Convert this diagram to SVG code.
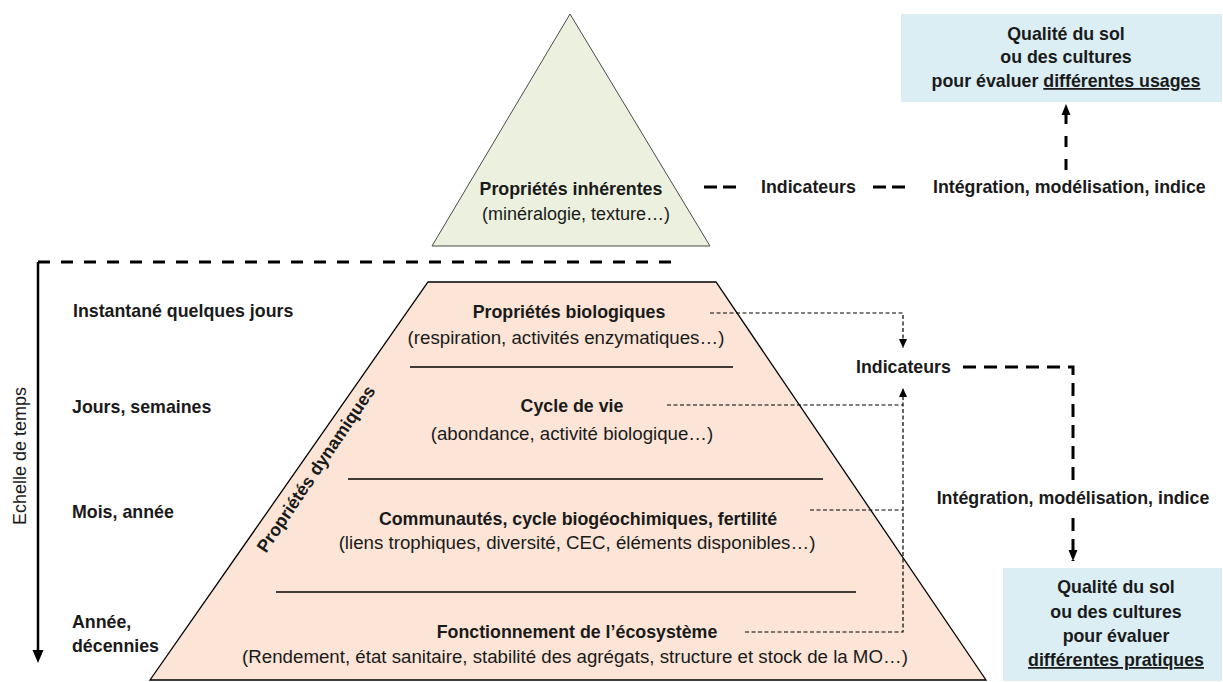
<svg xmlns="http://www.w3.org/2000/svg" width="1223" height="682" viewBox="0 0 1223 682">
<style>
text{font-family:"Liberation Sans",Arial,sans-serif;fill:#1a1a1a}
.b{font-weight:bold;font-size:17.8px}
.r{font-size:18.7px}
.m{text-anchor:middle}
.heavy{fill:none;stroke:#000;stroke-width:3;stroke-dasharray:12 11}
.thin{fill:none;stroke:#000;stroke-width:1.2;stroke-dasharray:4 2.5}
.div{stroke:#000;stroke-width:1.5}
</style>
<defs>
<marker id="ah" markerUnits="userSpaceOnUse" markerWidth="12" markerHeight="12" viewBox="0 0 12 12" refX="11" refY="6" orient="auto">
<path d="M0,1.5 L11,6 L0,10.5 Z" fill="#000"/>
</marker>
<marker id="ahs" markerUnits="userSpaceOnUse" markerWidth="10" markerHeight="10" viewBox="0 0 10 10" refX="9" refY="5" orient="auto">
<path d="M0,1 L9,5 L0,9 Z" fill="#000"/>
</marker>
</defs>
<rect width="1223" height="682" fill="#fff"/>

<g id="inherent">
<polygon points="570,14 432,246 710,246" fill="#ebf1de" stroke="#4a4a4a" stroke-width="1"/>
<text class="b m" x="571" y="195">Propriétés inhérentes</text>
<text class="r m" x="576" y="220" style="font-size:18px">(minéralogie, texture…)</text>
</g>

<g id="dynamic">
<polygon points="428,282 716,282 986,680 150,680" fill="#fce5d6" stroke="#000" stroke-width="1.3"/>
<line class="div" x1="410" y1="367" x2="733" y2="367"/>
<line class="div" x1="348" y1="479" x2="823" y2="479"/>
<line class="div" x1="276" y1="592" x2="856" y2="592"/>
<text class="b" transform="translate(316,469) rotate(-56)" x="0" y="6" text-anchor="middle">Propriétés dynamiques</text>
</g>

<g id="bio">
<text class="b m" x="569" y="318">Propriétés biologiques</text>
<text class="r m" x="566" y="344">(respiration, activités enzymatiques…)</text>
</g>
<g id="cycle">
<text class="b m" x="572" y="412">Cycle de vie</text>
<text class="r m" x="572" y="440">(abondance, activité biologique…)</text>
</g>
<g id="communautes">
<text class="b m" x="578" y="525">Communautés, cycle biogéochimiques, fertilité</text>
<text class="r m" x="577" y="549">(liens trophiques, diversité, CEC, éléments disponibles…)</text>
</g>
<g id="fonctionnement">
<text class="b m" x="577" y="638">Fonctionnement de l’écosystème</text>
<text class="r m" x="575" y="663">(Rendement, état sanitaire, stabilité des agrégats, structure et stock de la MO…)</text>
</g>

<g id="timescale">
<text class="r m" transform="translate(20,456) rotate(-90)" x="0" y="6" style="font-size:18px">Echelle de temps</text>
<text class="b" x="73" y="317">Instantané quelques jours</text>
<text class="b" x="72" y="413">Jours, semaines</text>
<text class="b" x="72" y="518">Mois, année</text>
<text class="b" x="72" y="628">Année,</text>
<text class="b" x="72" y="652">décennies</text>
</g>

<g id="top-indicators">
<text class="b" x="761" y="193">Indicateurs</text>
<text class="b" x="933" y="193">Intégration, modélisation, indice</text>
</g>

<g id="mid-indicators">
<text class="b" x="856" y="373">Indicateurs</text>
<text class="b m" x="1073" y="504">Intégration, modélisation, indice</text>
</g>

<g id="box-usages">
<rect x="901" y="14" width="321" height="88" fill="#daeef3"/>
<text class="b m" x="1066" y="40">Qualité du sol</text>
<text class="b m" x="1066" y="63">ou des cultures</text>
<text class="b m" x="1066" y="87">pour évaluer <tspan text-decoration="underline">différentes usages</tspan></text>
</g>

<g id="box-pratiques">
<rect x="1003" y="568" width="219" height="113" fill="#daeef3"/>
<text class="b m" x="1116" y="593">Qualité du sol</text>
<text class="b m" x="1116" y="618">ou des cultures</text>
<text class="b m" x="1116" y="642">pour évaluer</text>
<text class="b m" x="1116" y="666" text-decoration="underline">différentes pratiques</text>
</g>

<g id="connectors">
<line x1="38" y1="262" x2="677" y2="262" class="heavy"/>
<line x1="38" y1="262" x2="38" y2="652" stroke="#000" stroke-width="2.5"/>
<polygon points="32.5,650 43.5,650 38,663" fill="#000"/>
<line x1="704" y1="187" x2="737" y2="187" stroke="#000" stroke-width="3" stroke-dasharray="13 6"/>
<line x1="873" y1="187" x2="906" y2="187" stroke="#000" stroke-width="3" stroke-dasharray="13 6"/>
<line x1="1066" y1="170" x2="1066" y2="104" stroke="#000" stroke-width="3" stroke-dasharray="11 12" marker-end="url(#ah)"/>
<path d="M710,313 H903 V348" class="thin" marker-end="url(#ahs)"/>
<path d="M745,632 H903 V388" class="thin" marker-end="url(#ahs)"/>
<line x1="667" y1="405" x2="903" y2="405" class="thin"/>
<line x1="810" y1="510" x2="903" y2="510" class="thin"/>
<path d="M963,367 H1073 V482" stroke="#000" stroke-width="3" fill="none" stroke-dasharray="13 8"/>
<line x1="1073" y1="518" x2="1073" y2="561" stroke="#000" stroke-width="3" stroke-dasharray="13 8" marker-end="url(#ah)"/>
</g>
</svg>
